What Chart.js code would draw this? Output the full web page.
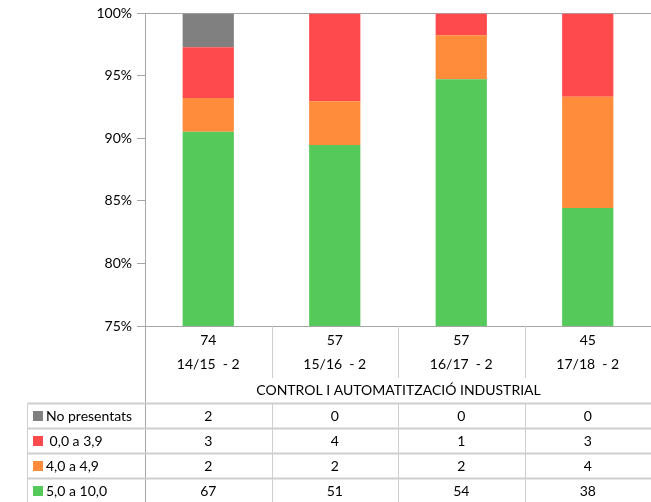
<!DOCTYPE html>
<html>
<head>
<meta charset="utf-8">
<script src="https://cdn.jsdelivr.net/npm/chart.js@4/dist/chart.umd.min.js"></script>
<style>
html,body{margin:0;padding:0;background:#fff;}
#wrap{width:651px;height:502px;position:relative;}
</style>
</head>
<body>
<div id="wrap"><canvas id="c" width="651" height="502"></canvas></div>
<script>
const categories = ['14/15  - 2', '15/16  - 2', '16/17  - 2', '17/18  - 2'];
const totals = [74, 57, 57, 45];
const groupTitle = 'CONTROL I AUTOMATITZACIÓ INDUSTRIAL';
const seriesNames = ['No presentats', ' 0,0 a 3,9', '4,0 a 4,9', '5,0 a 10,0'];
const noPresentats = [2, 0, 0, 0];
const suspens = [3, 4, 1, 3];
const quatre = [2, 2, 2, 4];
const aprovat = [67, 51, 54, 38];
const yTicks = [75, 80, 85, 90, 95, 100];

const colors = ['#808080', '#FF4A4D', '#FF8C3A', '#55C95A'];
const seriesCounts = [noPresentats, suspens, quatre, aprovat];
const FONT = 'Lato, "Open Sans", sans-serif';
const TXT = '#000';
const LINE = '#a6a6a6';
const TLINE = '#cfcfcf';

const pct = arr => arr.map((v, i) => v / totals[i] * 100);

// stacking bottom → top: green, orange, red, gray
const order = [3, 2, 1, 0];
const datasets = order.map(k => ({
  label: seriesNames[k],
  data: pct(seriesCounts[k]),
  backgroundColor: colors[k],
  borderWidth: 0,
  categoryPercentage: 1,
  barPercentage: 0.405
}));

const tablePlugin = {
  id: 'tablePlugin',
  afterDraw(chart) {
    const ctx = chart.ctx;
    const x = chart.scales.x;
    const ca = chart.chartArea;
    const n = categories.length;
    const centers = categories.map((c, i) => x.getPixelForValue(i));
    const step = n > 1 ? centers[1] - centers[0] : ca.right - ca.left;
    const bounds = [];
    for (let i = 0; i <= n; i++) bounds.push(Math.round(centers[0] - step / 2 + i * step) + 0.5);
    const tableLeft = 27.5;
    const rowTop = 403.5;
    const rowH = 25;

    ctx.save();
    ctx.lineWidth = 1;

    // y axis extension down
    ctx.strokeStyle = LINE;
    ctx.beginPath();
    ctx.moveTo(bounds[0], ca.bottom);
    ctx.lineTo(bounds[0], 502);
    ctx.stroke();

    // category dividers
    ctx.strokeStyle = TLINE;
    ctx.beginPath();
    for (let i = 1; i < n; i++) {
      ctx.moveTo(bounds[i], ca.bottom);
      ctx.lineTo(bounds[i], 378);
    }
    ctx.stroke();

    // table horizontal lines
    ctx.strokeStyle = TLINE;
    ctx.lineWidth = 2;
    ctx.beginPath();
    for (let r = 0; r <= seriesNames.length; r++) {
      const yy = rowTop + r * rowH;
      ctx.moveTo(tableLeft, yy);
      ctx.lineTo(651, yy);
    }
    ctx.stroke();
    ctx.lineWidth = 1;
    // table vertical lines
    ctx.strokeStyle = TLINE;
    ctx.beginPath();
    ctx.moveTo(tableLeft, rowTop);
    ctx.lineTo(tableLeft, 502);
    for (let i = 1; i < n; i++) {
      ctx.moveTo(bounds[i], rowTop);
      ctx.lineTo(bounds[i], 502);
    }
    ctx.stroke();

    // texts
    ctx.fillStyle = TXT;
    ctx.font = '14px ' + FONT;
    ctx.textAlign = 'center';
    ctx.textBaseline = 'middle';
    categories.forEach((c, i) => {
      ctx.fillText(String(totals[i]), centers[i], 340);
      ctx.fillText(c, centers[i], 364);
    });
    ctx.fillText(groupTitle, (bounds[0] + bounds[n]) / 2, 390);

    seriesNames.forEach((name, r) => {
      const cy = rowTop + r * rowH + rowH / 2;
      ctx.fillStyle = colors[r];
      ctx.fillRect(33, cy - 5, 10, 10);
      ctx.fillStyle = TXT;
      ctx.textAlign = 'left';
      ctx.fillText(name, 46, cy);
      ctx.textAlign = 'center';
      seriesCounts[r].forEach((v, i) => ctx.fillText(String(v), centers[i], cy));
    });
    ctx.restore();
  }
};

new Chart(document.getElementById('c'), {
  type: 'bar',
  data: { labels: categories, datasets },
  options: {
    responsive: false,
    animation: false,
    devicePixelRatio: 1,
    layout: { padding: { top: 13, right: 0, bottom: 176, left: 0 } },
    plugins: { legend: { display: false }, tooltip: { enabled: false } },
    scales: {
      x: { stacked: true, display: false },
      y: {
        stacked: true,
        min: 75,
        max: 100,
        afterFit(s) { s.width = 145; },
        afterBuildTicks(s) { s.ticks = yTicks.map(v => ({ value: v })); },
        border: { display: true, color: LINE, width: 1 },
        grid: {
          drawOnChartArea: true,
          color: c => (c.tick && (c.tick.value === 100 || c.tick.value === 75)) ? LINE : 'rgba(0,0,0,0)',
          tickColor: LINE,
          tickLength: 8
        },
        ticks: {
          padding: 5,
          color: TXT,
          font: { family: FONT, size: 14 },
          callback: v => v + '%'
        }
      }
    }
  },
  plugins: [tablePlugin]
});
</script>
</body>
</html>
